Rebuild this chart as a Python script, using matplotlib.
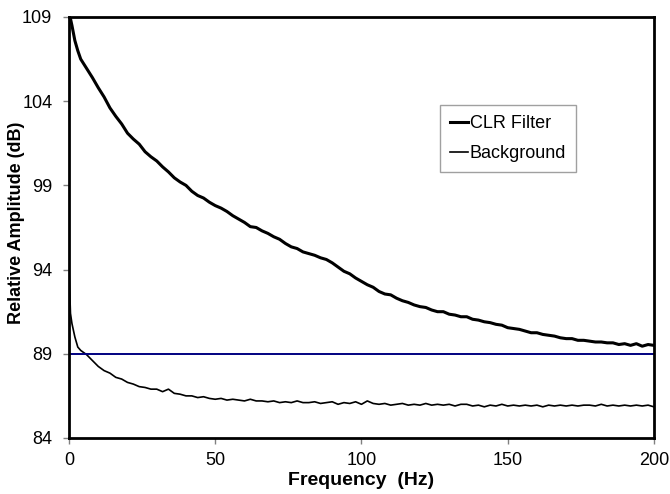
import matplotlib
matplotlib.use("Agg")
import matplotlib.pyplot as plt

plt.rcParams['font.family'] = ['Liberation Sans', 'DejaVu Sans']

# frequency points (Hz)
freq = [0, 0.5, 1, 2, 3, 4, 6, 8, 10, 12, 14, 16, 18, 20, 22, 24, 26, 28, 30,
        32, 34, 36, 38, 40, 42, 44, 46, 48, 50, 52, 54, 56, 58, 60, 62, 64, 66,
        68, 70, 72, 74, 76, 78, 80, 82, 84, 86, 88, 90, 92, 94, 96, 98, 100,
        102, 104, 106, 108, 110, 112, 114, 116, 118, 120, 122, 124, 126, 128,
        130, 132, 134, 136, 138, 140, 142, 144, 146, 148, 150, 152, 154, 156,
        158, 160, 162, 164, 166, 168, 170, 172, 174, 176, 178, 180, 182, 184,
        186, 188, 190, 192, 194, 196, 198, 200]

clr_filter = [109.3, 108.9, 108.5, 107.6, 107.0, 106.5,
              105.95, 105.4, 104.8, 104.25, 103.6, 103.1, 102.65, 102.1, 101.75,
              101.45, 101.0, 100.7, 100.45, 100.1, 99.8, 99.45, 99.2, 99.0,
              98.65, 98.4, 98.25, 98.0, 97.8, 97.65, 97.45, 97.2, 97.0, 96.8,
              96.55, 96.5, 96.3, 96.15, 95.95, 95.8, 95.55, 95.35, 95.25, 95.05,
              94.95, 94.85, 94.7, 94.6, 94.4, 94.15, 93.9, 93.75, 93.5, 93.3,
              93.1, 92.95, 92.7, 92.55, 92.5, 92.3, 92.15, 92.05, 91.9, 91.8,
              91.75, 91.6, 91.5, 91.5, 91.35, 91.3, 91.2, 91.2, 91.05, 91.0,
              90.9, 90.85, 90.75, 90.7, 90.55, 90.5, 90.45, 90.35, 90.25, 90.25,
              90.15, 90.1, 90.05, 89.95, 89.9, 89.9, 89.8, 89.8, 89.75, 89.7,
              89.7, 89.65, 89.65, 89.55, 89.6, 89.5, 89.6, 89.45, 89.55, 89.5]

background = [94.0, 91.4, 90.8, 90.0, 89.4, 89.2,
              88.95, 88.6, 88.25, 88.0, 87.85, 87.6, 87.5, 87.3, 87.2, 87.05,
              87.0, 86.9, 86.9, 86.75, 86.9, 86.65, 86.6, 86.5, 86.5, 86.4,
              86.45, 86.35, 86.3, 86.35, 86.25, 86.3, 86.25, 86.2, 86.3, 86.2,
              86.2, 86.15, 86.2, 86.1, 86.15, 86.1, 86.2, 86.1, 86.1, 86.15,
              86.05, 86.1, 86.15, 86.0, 86.1, 86.05, 86.15, 86.0, 86.2, 86.05,
              86.0, 86.05, 85.95, 86.0, 86.05, 85.95, 86.0, 85.95, 86.05, 85.95,
              86.0, 85.95, 86.0, 85.9, 86.0, 86.0, 85.9, 85.95, 85.85, 85.95,
              85.9, 86.0, 85.9, 85.95, 85.9, 85.95, 85.9, 85.95, 85.85, 85.95,
              85.9, 85.95, 85.9, 85.95, 85.9, 85.95, 85.95, 85.9, 86.0, 85.9,
              85.95, 85.9, 85.95, 85.9, 85.95, 85.9, 85.95, 85.85]

reference_level = 89

fig = plt.figure(figsize=(6.7, 4.94), dpi=100)
ax = fig.add_axes([0.103, 0.1134, 0.873, 0.8522])

ax.plot(freq, clr_filter, color='black', lw=2.2, label='CLR Filter')
ax.plot(freq, background, color='black', lw=1.2, label='Background')
ax.axhline(reference_level, color='#000080', lw=1.4)

ax.set_xlim(0, 200)
ax.set_ylim(84, 109)
ax.set_xticks([0, 50, 100, 150, 200])
ax.set_yticks([84, 89, 94, 99, 104, 109])
ax.tick_params(axis='both', labelsize=13, length=4, width=1, color='#808080', direction='out')
ax.tick_params(axis='y', pad=8)
ax.tick_params(axis='x', pad=6)

for s in ax.spines.values():
    s.set_linewidth(2)

ax.set_xlabel('Frequency  (Hz)', fontsize=14, fontweight='bold', labelpad=2)
ax.set_ylabel('Relative Amplitude (dB)', fontsize=13, fontweight='bold')
ax.yaxis.set_label_coords(-0.075, 0.51)

leg = ax.legend(loc='upper left', bbox_to_anchor=(0.634, 0.791), fontsize=13,
                fancybox=False, framealpha=1, edgecolor='#a0a0a0',
                handlelength=1.0, handletextpad=0.1, labelspacing=0.75,
                borderpad=0.55, borderaxespad=0)
leg.get_frame().set_linewidth(1)

fig.savefig('out.png', dpi=100)
